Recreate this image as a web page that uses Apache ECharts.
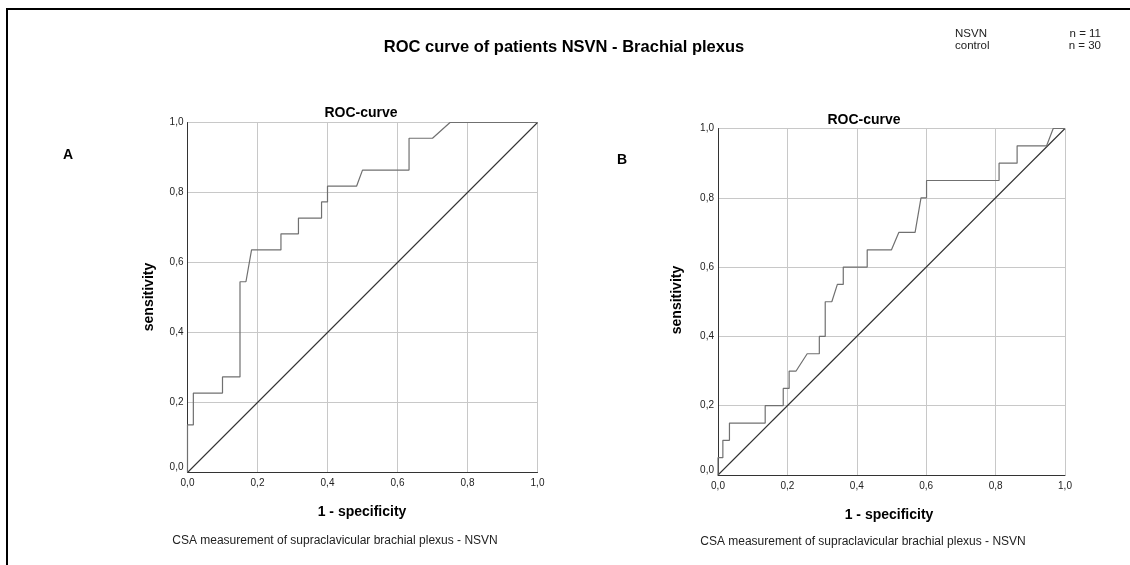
<!DOCTYPE html>
<html>
<head>
<meta charset="utf-8">
<script src="https://cdn.jsdelivr.net/npm/echarts@6/dist/echarts.min.js"></script>
<style>
  html, body { margin: 0; padding: 0; background: #fff; }
  #chart { width: 1130px; height: 565px; }
</style>
</head>
<body>
<div id="chart"></div>
<script>
// ROC curve A: [1 - specificity, sensitivity]
const rocA = [
  [0, 0], [0, 0.136], [0.0167, 0.136], [0.0167, 0.227], [0.1, 0.227], [0.1, 0.273],
  [0.15, 0.273], [0.15, 0.545], [0.167, 0.545], [0.183, 0.636], [0.267, 0.636],
  [0.267, 0.682], [0.317, 0.682], [0.317, 0.727], [0.383, 0.727], [0.383, 0.773],
  [0.4, 0.773], [0.4, 0.818], [0.483, 0.818], [0.5, 0.864], [0.633, 0.864],
  [0.633, 0.955], [0.7, 0.955], [0.75, 1.0], [1, 1.0]
];
// ROC curve B: [1 - specificity, sensitivity]
const rocB = [
  [0, 0], [0, 0.05], [0.014, 0.05], [0.014, 0.1], [0.033, 0.1], [0.033, 0.15],
  [0.136, 0.15], [0.136, 0.2], [0.188, 0.2], [0.188, 0.25], [0.205, 0.25],
  [0.205, 0.3], [0.225, 0.3], [0.257, 0.35], [0.292, 0.35], [0.292, 0.4],
  [0.309, 0.4], [0.309, 0.5], [0.328, 0.5], [0.344, 0.55], [0.361, 0.55],
  [0.361, 0.6], [0.43, 0.6], [0.43, 0.65], [0.5, 0.65], [0.521, 0.7],
  [0.568, 0.7], [0.585, 0.8], [0.601, 0.8], [0.601, 0.85], [0.81, 0.85],
  [0.81, 0.9], [0.862, 0.9], [0.862, 0.95], [0.947, 0.95], [0.966, 1.0], [1, 1.0]
];
// Reference (chance) line
const chanceLine = [[0, 0], [1, 1]];

const panelLetters = ['A', 'B'];
const groupNames = ['NSVN', 'control'];
const groupSizes = ['n = 11', 'n = 30'];
const mainTitle = 'ROC curve of patients NSVN - Brachial plexus';
const panelTitle = 'ROC-curve';
const xName = '1 - specificity';
const yName = 'sensitivity';
const footnote = 'CSA measurement of supraclavicular brachial plexus - NSVN';

const FONT = '"Liberation Sans", Arial, sans-serif';

function fmtTick(v) {
  return v.toFixed(1).replace('.', ',');
}

function xAxisFor(gridIndex) {
  return {
    type: 'value', gridIndex, min: 0, max: 1, interval: 0.2,
    axisLine: { show: true, lineStyle: { color: '#333', width: 1 } },
    axisTick: { show: false },
    splitLine: { show: true, lineStyle: { color: '#c8c8c8', width: 1 } },
    axisLabel: {
      color: '#222', fontSize: 10, fontFamily: FONT, margin: 6,
      formatter: fmtTick
    }
  };
}
function yAxisFor(gridIndex) {
  return {
    type: 'value', gridIndex, min: 0, max: 1, interval: 0.2,
    axisLine: { show: true, lineStyle: { color: '#333', width: 1 } },
    axisTick: { show: false },
    splitLine: { show: true, lineStyle: { color: '#c8c8c8', width: 1 } },
    axisLabel: {
      color: '#222', fontSize: 10, fontFamily: FONT, margin: 4,
      formatter: function (v) {
        return v === 0 ? '{low|' + fmtTick(v) + '}' : fmtTick(v);
      },
      rich: { low: { fontSize: 10, fontFamily: FONT, color: '#222', padding: [0, 0, 10, 0] } }
    }
  };
}

function txt(x, y, text, opts) {
  return {
    type: 'text', x, y, silent: true,
    style: Object.assign({
      text, fill: '#000', font: '12px ' + FONT, textAlign: 'center', textVerticalAlign: 'middle'
    }, opts || {})
  };
}

const chart = echarts.init(document.getElementById('chart'), null, { renderer: 'canvas' });
chart.setOption({
  animation: false,
  backgroundColor: '#fff',
  grid: [
    { left: 187.5, right: 592.5, top: 122.5, bottom: 92.5 },
    { left: 718, right: 65, top: 128.5, bottom: 90 }
  ],
  xAxis: [xAxisFor(0), xAxisFor(1)],
  yAxis: [yAxisFor(0), yAxisFor(1)],
  series: [
    { type: 'line', xAxisIndex: 0, yAxisIndex: 0, data: rocA, symbol: 'none',
      lineStyle: { color: '#707070', width: 1.2 }, silent: true, z: 3 },
    { type: 'line', xAxisIndex: 0, yAxisIndex: 0, data: chanceLine, symbol: 'none',
      lineStyle: { color: '#333', width: 1.1 }, silent: true, z: 2 },
    { type: 'line', xAxisIndex: 1, yAxisIndex: 1, data: rocB, symbol: 'none',
      lineStyle: { color: '#707070', width: 1.2 }, silent: true, z: 3 },
    { type: 'line', xAxisIndex: 1, yAxisIndex: 1, data: chanceLine, symbol: 'none',
      lineStyle: { color: '#333', width: 1.1 }, silent: true, z: 2 }
  ],
  graphic: [
    // frame
    { type: 'line', silent: true, shape: { x1: 6, y1: 9, x2: 1130, y2: 9 }, style: { stroke: '#000', lineWidth: 2 } },
    { type: 'line', silent: true, shape: { x1: 7, y1: 8, x2: 7, y2: 565 }, style: { stroke: '#000', lineWidth: 2 } },
    txt(564, 47, mainTitle, { font: 'bold 16.5px ' + FONT }),
    txt(955, 34, groupNames[0], { font: '11.5px ' + FONT, textAlign: 'left', fill: '#222' }),
    txt(955, 46, groupNames[1], { font: '11.5px ' + FONT, textAlign: 'left', fill: '#222' }),
    txt(1101, 34, groupSizes[0], { font: '11.5px ' + FONT, textAlign: 'right', fill: '#222' }),
    txt(1101, 46, groupSizes[1], { font: '11.5px ' + FONT, textAlign: 'right', fill: '#222' }),
    txt(68, 155, panelLetters[0], { font: 'bold 14px ' + FONT }),
    txt(622, 160, panelLetters[1], { font: 'bold 14px ' + FONT }),
    txt(361, 113, panelTitle, { font: 'bold 14px ' + FONT }),
    txt(864, 120, panelTitle, { font: 'bold 14px ' + FONT }),
    Object.assign(txt(0, 0, yName, { font: 'bold 14px ' + FONT }), { x: 149, y: 297, rotation: Math.PI / 2 }),
    Object.assign(txt(0, 0, yName, { font: 'bold 14px ' + FONT }), { x: 677, y: 300, rotation: Math.PI / 2 }),
    txt(362, 512, xName, { font: 'bold 14px ' + FONT }),
    txt(889, 515, xName, { font: 'bold 14px ' + FONT }),
    txt(335, 541, footnote, { font: '12px ' + FONT, fill: '#222' }),
    txt(863, 542, footnote, { font: '12px ' + FONT, fill: '#222' })
  ]
});
</script>
</body>
</html>
